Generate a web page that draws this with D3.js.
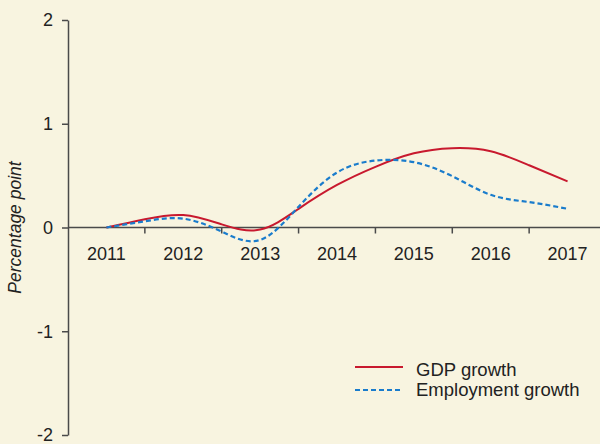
<!DOCTYPE html>
<html>
<head>
<meta charset="utf-8">
<script src="https://cdn.jsdelivr.net/npm/d3@7"></script>
<style>
  html, body { margin: 0; padding: 0; background: #f8f4e0; }
  svg { display: block; }
  text { font-family: "Liberation Sans", Arial, sans-serif; fill: #222; }
</style>
</head>
<body>
<svg id="chart" width="600" height="444"></svg>
<script>
// Data
const categories = ["2011", "2012", "2013", "2014", "2015", "2016", "2017"];
const sampleYears = [2011, 2011.5, 2012, 2012.5, 2013, 2013.5, 2014, 2014.5, 2015, 2015.5, 2016, 2016.5, 2017];
const gdpGrowth =        [0, 0.08, 0.12, 0.03, -0.02, 0.18, 0.41, 0.585, 0.715, 0.765, 0.735, 0.6, 0.445];
const employmentGrowth = [0, 0.06, 0.085, -0.04, -0.12, 0.20, 0.53, 0.645, 0.63, 0.495, 0.315, 0.245, 0.18];
const yTicks = [-2, -1, 0, 1, 2];
const seriesNames = ["GDP growth", "Employment growth"];
const yTitle = "Percentage point";

const svg = d3.select("#chart");
const W = 600, H = 444;
svg.append("rect").attr("width", W).attr("height", H).attr("fill", "#f8f4e0");

const mLeft = 68, mRight = 606, mTop = 20, mBottom = 435;

const xBand = d3.scaleBand().domain(categories).range([mLeft, mRight]).padding(0);
const bw = xBand.bandwidth();
const xLin = d3.scaleLinear()
  .domain([+categories[0], +categories[categories.length - 1]])
  .range([xBand(categories[0]) + bw / 2, xBand(categories[categories.length - 1]) + bw / 2]);
const y = d3.scaleLinear().domain([-2, 2]).range([mBottom, mTop]);

const axisColor = "#4a4a4a";
const fontFam = '"Liberation Sans", Arial, sans-serif';

// Y axis
const yAxis = svg.append("g")
  .attr("transform", `translate(${mLeft},0)`)
  .call(d3.axisLeft(y).tickValues(yTicks).tickSize(6).tickSizeOuter(0).tickPadding(9).tickFormat(d => String(d)));
yAxis.select(".domain").attr("stroke", axisColor).attr("stroke-width", 1.5);
yAxis.selectAll(".tick line").attr("stroke", axisColor).attr("stroke-width", 1.5);
yAxis.selectAll(".tick text").attr("font-size", 18).attr("fill", "#222")
  .style("font-family", fontFam);

// X axis (at y=0)
const y0 = y(0);
const xAxis = svg.append("g")
  .attr("transform", `translate(0,${y0})`)
  .call(d3.axisBottom(xBand).tickSize(0).tickSizeOuter(0).tickPadding(20));
xAxis.select(".domain").remove();
xAxis.selectAll(".tick line").remove();
xAxis.selectAll(".tick text").attr("font-size", 18).attr("fill", "#222")
  .style("font-family", fontFam);
svg.append("line")
  .attr("x1", mLeft).attr("x2", W).attr("y1", y0).attr("y2", y0)
  .attr("stroke", axisColor).attr("stroke-width", 1.5);
// boundary tick marks
svg.append("g").selectAll("line")
  .data(categories.slice(1))
  .join("line")
  .attr("x1", d => xBand(d)).attr("x2", d => xBand(d))
  .attr("y1", y0).attr("y2", y0 + 6)
  .attr("stroke", axisColor).attr("stroke-width", 1.5);

// Y title
svg.append("text")
  .attr("transform", `translate(21,${y0}) rotate(-90)`)
  .attr("text-anchor", "middle")
  .attr("font-size", 17.5)
  .attr("font-style", "italic")
  .text(yTitle);

// Lines
const line = d3.line()
  .x(d => xLin(d[0]))
  .y(d => y(d[1]))
  .curve(d3.curveNatural);

const gdpData = sampleYears.map((yr, i) => [yr, gdpGrowth[i]]);
const empData = sampleYears.map((yr, i) => [yr, employmentGrowth[i]]);

const red = "#c8192e", blue = "#1a7ccc";

svg.append("path").datum(gdpData)
  .attr("d", line).attr("fill", "none")
  .attr("stroke", red).attr("stroke-width", 2);
svg.append("path").datum(empData)
  .attr("d", line).attr("fill", "none")
  .attr("stroke", blue).attr("stroke-width", 2.2)
  .attr("stroke-dasharray", "5,3");

// Legend
const legend = svg.append("g");
const legendItems = [
  { name: seriesNames[0], color: red, dash: null, ly: 367, ty: 376 },
  { name: seriesNames[1], color: blue, dash: "5,3", ly: 390, ty: 395.5 }
];
legendItems.forEach(it => {
  legend.append("line")
    .attr("x1", 355).attr("x2", 403).attr("y1", it.ly).attr("y2", it.ly)
    .attr("stroke", it.color).attr("stroke-width", 2)
    .attr("stroke-dasharray", it.dash);
  legend.append("text")
    .attr("x", 416).attr("y", it.ty)
    .attr("font-size", 18.5)
    .text(it.name);
});
</script>
</body>
</html>
